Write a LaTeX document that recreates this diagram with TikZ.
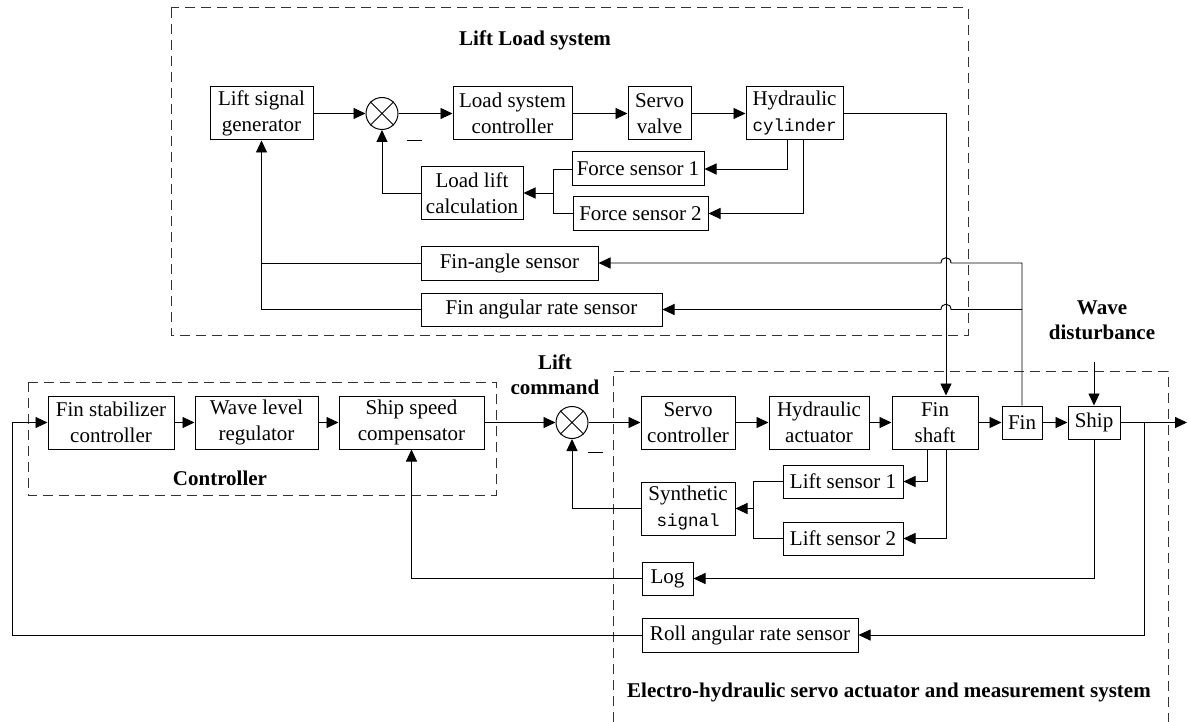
\documentclass[tikz,border=0pt]{standalone}
\usepackage{fontspec}
\setmainfont{Liberation Serif}
\newfontfamily\codefont{Liberation Mono}
\usetikzlibrary{arrows.meta,calc}

\begin{document}
\begin{tikzpicture}[x=1pt,y=-1pt,
  every node/.style={font=\fontsize{21}{26}\selectfont},
  blk/.style 2 args={draw,line width=1pt,inner sep=0pt,align=center,
    minimum width=#1,minimum height=#2},
  sumj/.style={draw,circle,line width=1pt,minimum size=32pt,inner sep=0pt},
  conn/.style={line width=0.95pt},
  arr/.style={conn,-{Triangle[length=12pt,width=11pt]}},
  grp/.style={draw=black!80,line width=1pt,dash pattern=on 10pt off 6pt},
  lbl/.style={font=\bfseries\fontsize{21}{25}\selectfont,inner sep=0pt,align=center}]
\useasboundingbox (0,0) rectangle (1188,722);
\fill[white] (0,0) rectangle (1188,722);

% subsystem frames
\draw[grp] (171,8) rectangle (968,335);
\draw[grp] (28,382) rectangle (496,495);
\draw[grp] (613,722) -- (613,371) -- (1168,371) -- (1168,722);

% frame titles
\node[lbl] (tLoad) at (535,40) {Lift Load system};
\node[lbl] (tCtrl) at (220,478) {Controller};
\node[lbl] (tCmd) at (555,374.5) {Lift\\command};
\node[lbl] (tWave) at (1102,320.5) {Wave\\disturbance};
\node[lbl] (tEH) at (889,692) {Electro-hydraulic servo actuator and measurement system};

% lift load system blocks
\node[blk={103pt}{53pt}] (lsg) at (261.5,113.5) {Lift signal\\generator};
\node[sumj] (s1) at (382,113.5) {};
\node[blk={119pt}{53pt}] (lsc) at (512.5,113.5) {Load system\\controller};
\node[blk={63pt}{53pt}] (sv) at (659.5,113.5) {Servo\\valve};
\node[blk={97pt}{53pt}] (hc) at (794.5,113.5) {Hydraulic\\{\codefont\fontsize{17.5}{26}\selectfont cylinder}};
\node[blk={132pt}{34pt}] (fs1) at (638,169) {Force sensor 1};
\node[blk={135pt}{33pt}] (fs2) at (640.5,213.5) {Force sensor 2};
\node[blk={102pt}{52pt}] (llc) at (472,193) {Load lift\\calculation};
\node[blk={177pt}{34pt}] (fas) at (509.5,263) {Fin-angle sensor};
\node[blk={241pt}{33pt}] (far) at (541.5,309.5) {Fin angular rate sensor};

% controller and actuator chain
\node[blk={126pt}{53pt}] (fsc) at (111,422.5) {Fin stabilizer\\controller};
\node[blk={123pt}{53pt}] (wlr) at (256.5,422.5) {Wave level\\regulator};
\node[blk={145pt}{53pt}] (ssc) at (411.5,422.5) {Ship speed\\compensator};
\node[sumj] (s2) at (572,422.5) {};
\node[blk={94pt}{53pt}] (sc) at (688,422.5) {Servo\\controller};
\node[blk={100pt}{53pt}] (ha) at (819,422.5) {Hydraulic\\actuator};
\node[blk={86pt}{53pt}] (fsh) at (935,422.5) {Fin\\shaft};
\node[blk={40pt}{33pt}] (fin) at (1022,422.5) {Fin};
\node[blk={52pt}{33pt}] (ship) at (1094,422.5) {Ship};
\node[blk={120pt}{33pt}] (ls1) at (843,481.5) {Lift sensor 1};
\node[blk={120pt}{33pt}] (ls2) at (843,538.5) {Lift sensor 2};
\node[blk={94pt}{53pt}] (syn) at (688,508.5) {Synthetic\\{\codefont\fontsize{17.5}{26}\selectfont signal}};
\node[blk={51pt}{33pt}] (log) at (667.5,578.5) {Log};
\node[blk={216pt}{34pt}] (rars) at (750,635) {Roll angular rate sensor};

% crosses inside the summing junctions
\draw[conn] (s1.45) -- (s1.225) (s1.135) -- (s1.315);
\draw[conn] (s2.45) -- (s2.225) (s2.135) -- (s2.315);

% minus signs at the feedback inputs
\draw[conn] ($(s1)+(25,26.5)$) -- +(15,0);
\draw[conn] ($(s2)+(16,29.5)$) -- +(15,0);

% routing columns
\coordinate (cB) at (946,0);
\coordinate (cF1) at (787,0);
\coordinate (cF2) at (803,0);
\coordinate (jF) at (553,0);
\coordinate (cS1) at (927,0);
\coordinate (jL) at (753,0);
\coordinate (inL) at (12,0);
\coordinate (cR) at (1144,0);
\coordinate (out) at (1187,422.5);
\coordinate (wave) at (1094,362);

% lift load loop
\draw[arr] (lsg) -- (s1);
\draw[arr] (s1) -- (lsc);
\draw[arr] (lsc) -- (sv);
\draw[arr] (sv) -- (hc);
\draw[arr] (hc.east) -| (cB |- fsh.north);
\draw[arr] (cF1 |- hc.south) |- (fs1.east);
\draw[arr] (cF2 |- hc.south) |- (fs2.east);
\draw[conn] (fs1.west) -| (jF |- fs2.west) -- (fs2.west);
\draw[arr] (jF |- llc.east) -- (llc.east);
\draw[arr] (llc.west) -| (s1.south);
\draw[conn] (fas.west) -- (fas.west -| lsg.south);
\draw[arr] (far.west) -| (lsg.south);

% fin feedback to the load system, hopping over the trunk line
\draw[arr] (fin.north) |- ($(cB |- fas.east)+(5,0)$)
  .. controls +(0,-7) and +(0,-7) .. ($(cB |- fas.east)+(-5,0)$) -- (fas.east);
\draw[arr] (fin.north |- far.east) -- ($(cB |- far.east)+(5,0)$)
  .. controls +(0,-7) and +(0,-7) .. ($(cB |- far.east)+(-5,0)$) -- (far.east);

% main forward chain
\draw[arr] (rars.west) -| (inL |- fsc.west) -- (fsc.west);
\draw[arr] (fsc) -- (wlr);
\draw[arr] (wlr) -- (ssc);
\draw[arr] (ssc) -- (s2);
\draw[arr] (s2) -- (sc);
\draw[arr] (sc) -- (ha);
\draw[arr] (ha) -- (fsh);
\draw[arr] (fsh) -- (fin);
\draw[arr] (fin) -- (ship);
\draw[arr] (ship) -- (out);
\draw[arr] (wave) -- (ship.north);

% measurement feedback
\draw[arr] (cR |- ship.east) |- (rars.east);
\draw[arr] (ship.south) |- (log.east);
\draw[arr] (log.west) -| (ssc.south);
\draw[arr] (cS1 |- fsh.south) |- (ls1.east);
\draw[arr] (cB |- fsh.south) |- (ls2.east);
\draw[conn] (ls1.west) -| (jL |- ls2.west) -- (ls2.west);
\draw[arr] (jL |- syn.east) -- (syn.east);
\draw[arr] (syn.west) -| (s2.south);
\end{tikzpicture}
\end{document}
